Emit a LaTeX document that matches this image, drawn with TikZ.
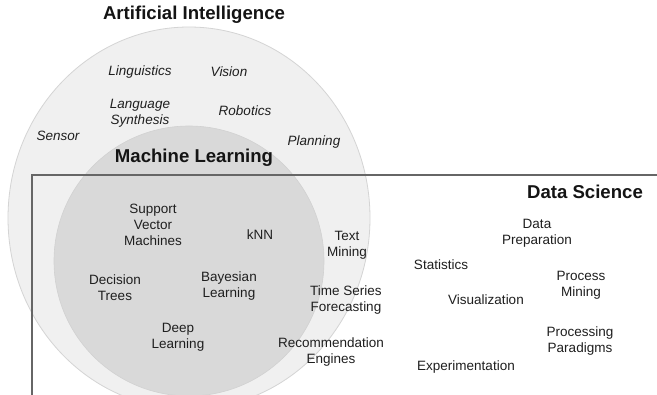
\documentclass[tikz,border=0pt]{standalone}
\usepackage{fontspec}
\setmainfont{Liberation Sans}
\begin{document}
\begin{tikzpicture}[x=1pt,y=-1pt,
  lbl/.style={text=black!88,align=center,inner sep=0pt,font=\fontsize{13.5}{16}\selectfont},
  ailbl/.style={lbl,font=\fontsize{13.5}{16}\selectfont\itshape},
  ttl/.style={text=black!92,inner sep=0pt,font=\fontsize{18.6}{22}\selectfont\bfseries}]
\useasboundingbox (0,0) rectangle (657,395);
\clip (0,0) rectangle (657,395);
\fill[white] (0,0) rectangle (657,395);
% AI region
\draw[fill=black!6,draw=black!17,line width=0.8pt] (189,218) ellipse [x radius=181, y radius=191];
% ML region
\draw[fill=black!15,draw=black!18,line width=0.6pt] (189,261) circle [radius=135];
% Data Science frame
\draw[draw=black!60,line width=1.4pt] (32,450) -- (32,175) -- (700,175);
% titles
\node[ttl] (ai) at (194,15) {Artificial Intelligence};
\node[ttl] (ml) at (194,158) {Machine Learning};
\node[ttl] (ds) at (585,192) {Data Science};
% AI labels
\node[ailbl] (ling) at (140,72) {Linguistics};
\node[ailbl] (vis) at (229,72) {Vision};
\node[ailbl] (lang) at (140,113) {Language\\Synthesis};
\node[ailbl] (rob) at (245,111) {Robotics};
\node[ailbl] (sens) at (58,136) {Sensor};
\node[ailbl] (plan) at (314,142) {Planning};
% ML labels
\node[lbl] (svm) at (153,225) {Support\\Vector\\Machines};
\node[lbl] (knn) at (260,235) {kNN};
\node[lbl] (dt) at (115,288) {Decision\\Trees};
\node[lbl] (bay) at (229,286) {Bayesian\\Learning};
\node[lbl] (deep) at (178,337) {Deep\\Learning};
% overlap labels
\node[lbl] (tm) at (347,245) {Text\\Mining};
\node[lbl] (tsf) at (346,300) {Time Series\\Forecasting};
\node[lbl] (rec) at (331,352) {Recommendation\\Engines};
% DS labels
\node[lbl] (dp) at (537,233) {Data\\Preparation};
\node[lbl] (stat) at (441,265) {Statistics};
\node[lbl] (pm) at (581,285) {Process\\Mining};
\node[lbl] (viz) at (486,300) {Visualization};
\node[lbl] (pp) at (580,341) {Processing\\Paradigms};
\node[lbl] (exp) at (466,367) {Experimentation};
\end{tikzpicture}
\end{document}
